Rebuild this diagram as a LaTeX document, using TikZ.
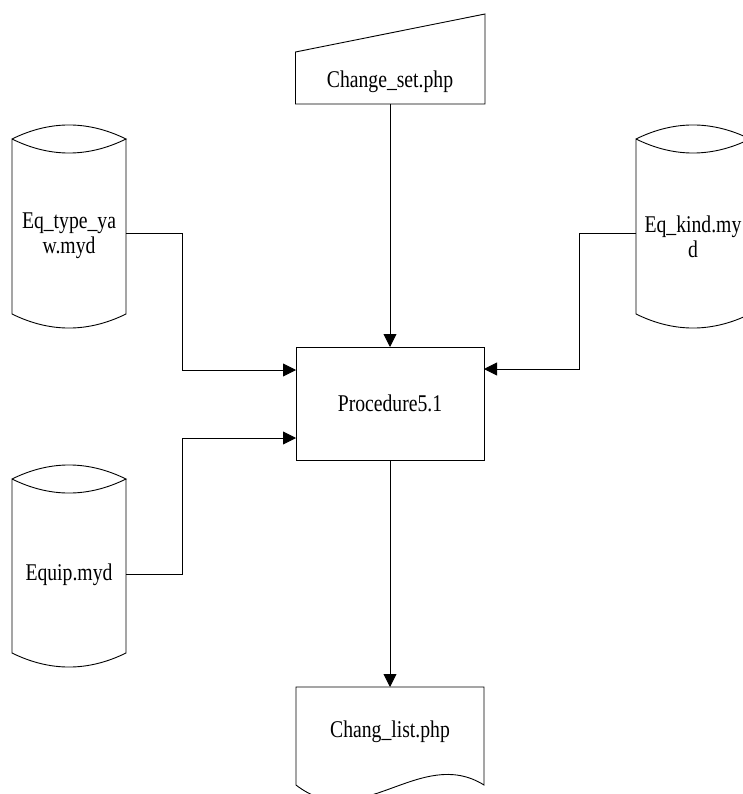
\documentclass[tikz,border=0pt]{standalone}
\usepackage{fontspec}
\setmainfont{Liberation Serif}[FakeStretch=0.82]
\usetikzlibrary{arrows.meta}
\begin{document}
\begin{tikzpicture}[x=1pt,y=-1pt,
  shp/.style={draw=black,line width=0.9pt},
  conn/.style={draw=black,line width=0.9pt},
  arr/.style={conn,-{Triangle[length=13pt,width=13pt]}},
  lbl/.style={font=\fontsize{24}{25}\selectfont,align=center,inner sep=0pt}]
\useasboundingbox (0,0) rectangle (742,794);
% manual input
\draw[shp] (295.5,52) -- (485,14) -- (485,104) -- (295.5,104) -- cycle;
\node[lbl] (cs) at (390,82) {Change\_set.php};
\coordinate (csb) at (390,104);
% process
\node[shp,minimum width=188pt,minimum height=113pt,inner sep=0pt] (proc) at (390,403.5) {};
\node[lbl] (proct) at (390,403) {Procedure5.1};
% left cylinder
\draw[shp] (12,139) .. controls (50,120.3) and (88,120.3) .. (126,139)
  .. controls (88,157.7) and (50,157.7) .. (12,139) -- (12,314)
  .. controls (50,332.7) and (88,332.7) .. (126,314) -- (126,139);
\node[lbl] (ety) at (69,235.5) {Eq\_type\_ya\\w.myd};
\coordinate (etyp) at (126,233);
% right cylinder
\draw[shp] (636,139) .. controls (674,120.3) and (712,120.3) .. (750,139)
  .. controls (712,157.7) and (674,157.7) .. (636,139) -- (636,314)
  .. controls (674,332.7) and (712,332.7) .. (750,314) -- (750,139);
\node[lbl] (ek) at (693,236.5) {Eq\_kind.my\\d};
\coordinate (ekp) at (636,233);
% equip cylinder
\draw[shp] (12,479) .. controls (50,460.3) and (88,460.3) .. (126,479)
  .. controls (88,497.7) and (50,497.7) .. (12,479) -- (12,653)
  .. controls (50,671.7) and (88,671.7) .. (126,653) -- (126,479);
\node[lbl] (eq) at (69,575) {Equip.myd};
\coordinate (eqp) at (126,574);
% document
\draw[shp] (296,687) -- (484,687) -- (484,785)
  .. controls (420,745) and (360,835) .. (296,785) -- cycle;
\node[lbl] (cl) at (390,732) {Chang\_list.php};
\coordinate (clt) at (390,687);
% ports on process
\coordinate (pA) at (296,370);
\coordinate (pB) at (484,369);
\coordinate (pC) at (296,438);
\coordinate (pT) at (390,347);
\coordinate (pD) at (390,460);
% connectors
\draw[arr] (csb) -- (pT);
\draw[arr] (etyp) -- ++(56,0) |- (pA);
\draw[arr] (ekp) -- ++(-57,0) |- (pB);
\draw[arr] (eqp) -- ++(56,0) |- (pC);
\draw[arr] (pD) -- (clt);
\end{tikzpicture}
\end{document}
